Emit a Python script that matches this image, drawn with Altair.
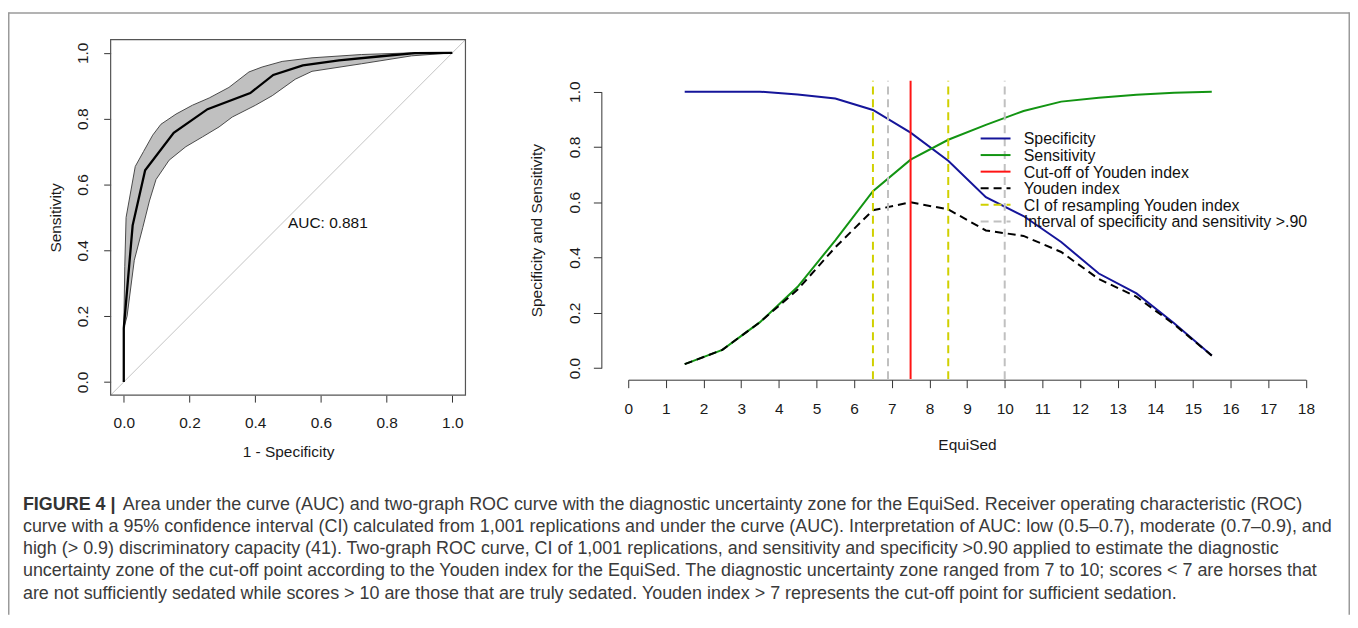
import altair as alt
import pandas as pd

# ---------------- data ----------------
# Left panel: ROC curve (x = 1 - specificity, y = sensitivity)
roc_fpr = [0.0, 0.0, 0.027, 0.065, 0.152, 0.255, 0.385, 0.455, 0.545, 0.655, 0.775, 0.886, 1.0]
roc_sens = [0.0, 0.163, 0.476, 0.643, 0.757, 0.829, 0.878, 0.933, 0.962, 0.977, 0.989, 0.999, 1.0]
ci_upper_fpr = [0.0, 0.003, 0.007, 0.035, 0.06, 0.088, 0.113, 0.159, 0.209, 0.26, 0.32, 0.381,
                0.421, 0.482, 0.573, 0.724, 0.876, 1.0]
ci_upper_sens = [0.163, 0.35, 0.50, 0.655, 0.70, 0.75, 0.783, 0.814, 0.841, 0.863, 0.895, 0.942,
                 0.957, 0.974, 0.985, 0.995, 1.0, 1.0]
ci_lower_fpr = [0.0, 0.01, 0.032, 0.058, 0.078, 0.098, 0.138, 0.189, 0.24, 0.29, 0.33, 0.401,
                0.452, 0.522, 0.573, 0.724, 0.876, 1.0]
ci_lower_sens = [0.163, 0.20, 0.37, 0.47, 0.55, 0.615, 0.674, 0.715, 0.745, 0.775, 0.805, 0.841,
                 0.87, 0.92, 0.944, 0.967, 0.991, 1.0]
auc_label = "AUC: 0.881"

# Right panel: two-graph ROC
equised = [1.5, 2.5, 3.5, 4.5, 5.5, 6.5, 7.5, 8.5, 9.5, 10.5, 11.5, 12.5, 13.5, 14.5, 15.5]
specificity = [1.0, 1.0, 1.0, 0.99, 0.975, 0.934, 0.852, 0.750, 0.618, 0.55, 0.456, 0.342, 0.270, 0.162, 0.045]
sensitivity = [0.014, 0.066, 0.166, 0.294, 0.462, 0.640, 0.754, 0.826, 0.880, 0.930, 0.964, 0.978, 0.989, 0.996, 1.0]
youden = [0.014, 0.066, 0.166, 0.284, 0.437, 0.571, 0.600, 0.574, 0.498, 0.478, 0.420, 0.322, 0.258, 0.158, 0.045]
youden_cutoff = [7.5]
ci_youden = [6.5, 8.5]
interval_90 = [6.9, 10.0]

legend_labels = ["Specificity", "Sensitivity", "Cut-off of Youden index", "Youden index",
                 "CI of resampling Youden index", "Interval of specificity and sensitivity >.90"]

caption_bold = "FIGURE 4 |"
caption_lines = [
    "Area under the curve (AUC) and two-graph ROC curve with the diagnostic uncertainty zone for the EquiSed. Receiver operating characteristic (ROC)",
    "curve with a 95% confidence interval (CI) calculated from 1,001 replications and under the curve (AUC). Interpretation of AUC: low (0.5\u20130.7), moderate (0.7\u20130.9), and",
    "high (> 0.9) discriminatory capacity (41). Two-graph ROC curve, CI of 1,001 replications, and sensitivity and specificity >0.90 applied to estimate the diagnostic",
    "uncertainty zone of the cut-off point according to the Youden index for the EquiSed. The diagnostic uncertainty zone ranged from 7 to 10; scores < 7 are horses that",
    "are not sufficiently sedated while scores > 10 are those that are truly sedated. Youden index > 7 represents the cut-off point for sufficient sedation.",
]

# ---------------- layout / style ----------------
FONT = "Liberation Sans"
FS = 15.5
W, H = 1348, 605
OX, OY = 8, 11          # page position of the view origin


def px(v):
    return v - OX


def py(v):
    return v - OY


BLUE = "#15159a"
GREEN = "#129412"
RED = "#ff1414"
YELLOW = "#d0d000"
GREY = "#c0c0c0"
DASH = [8, 5]

# ---------------- left panel ----------------
LX = alt.Scale(domain=[-0.04, 1.04], range=[px(111.1), px(467.5)], nice=False, zero=False)
LY = alt.Scale(domain=[-0.04, 1.04], range=[py(395.5), py(38.5)], nice=False, zero=False)
ticks01 = [0.0, 0.2, 0.4, 0.6, 0.8, 1.0]

ax_lx = alt.Axis(orient="bottom", offset=py(395.5) - H, values=ticks01, format=".1f",
                 domain=False, grid=False, tickSize=7, labelPadding=21, labelBaseline="middle",
                 labelAlign="center", labelFlush=False, labelOverlap=False,
                 title="1 - Specificity", titleX=px(289.3), titleY=57, titleBaseline="middle",
                 titleAlign="center", titleAngle=0)
ax_ly = alt.Axis(orient="left", offset=-px(111.1), values=ticks01, format=".1f",
                 domain=False, grid=False, tickSize=7, labelPadding=20.8, labelAngle=270,
                 labelAlign="center", labelBaseline="middle", labelFlush=False, labelOverlap=False,
                 title="Sensitivity", titleX=55.5 - 111.1, titleY=py(217), titleAngle=270,
                 titleBaseline="middle", titleAlign="center")

band_df = pd.DataFrame({
    "x": ci_upper_fpr + ci_lower_fpr[::-1],
    "y": ci_upper_sens + ci_lower_sens[::-1],
    "i": list(range(len(ci_upper_fpr) + len(ci_lower_fpr))),
})
roc_df = pd.DataFrame({"x": roc_fpr, "y": roc_sens, "i": list(range(len(roc_fpr)))})
one = pd.DataFrame({"a": [0]})

band = alt.Chart(band_df).mark_line(fill="#c0c0c0", stroke="#4a4a4a", strokeWidth=1).encode(
    x=alt.X("x:Q", scale=LX, axis=ax_lx),
    y=alt.Y("y:Q", scale=LY, axis=ax_ly),
    order=alt.Order("i:Q"),
)
diag = alt.Chart(one).mark_rule(color="#c4c4c4", strokeWidth=1).encode(
    x=alt.XDatum(-0.04, scale=LX, axis=ax_lx), x2=alt.X2Datum(1.04),
    y=alt.YDatum(-0.04, scale=LY, axis=ax_ly), y2=alt.Y2Datum(1.04),
)
curve = alt.Chart(roc_df).mark_line(color="#000000", strokeWidth=2.3).encode(
    x=alt.X("x:Q", scale=LX, axis=ax_lx),
    y=alt.Y("y:Q", scale=LY, axis=ax_ly),
    order=alt.Order("i:Q"),
)
box = alt.Chart(one).mark_rect(fill=None, stroke="#555555", strokeWidth=1.2).encode(
    x=alt.XDatum(-0.04, scale=LX, axis=ax_lx), x2=alt.X2Datum(1.04),
    y=alt.YDatum(-0.04, scale=LY, axis=ax_ly), y2=alt.Y2Datum(1.04),
)
auc = alt.Chart(pd.DataFrame({"t": [auc_label]})).mark_text(
    align="left", baseline="middle", font=FONT, fontSize=FS, color="#111111").encode(
    x=alt.XDatum(0.5, scale=LX, axis=ax_lx),
    y=alt.YDatum(0.482, scale=LY, axis=ax_ly),
    text="t:N",
)
left = alt.layer(band, diag, curve, box, auc)

# ---------------- right panel ----------------
RX = alt.Scale(domain=[0, 18], range=[px(631), px(1311.7)], nice=False, zero=False)
RY = alt.Scale(domain=[0, 1], range=[py(368.3), py(90.7)], nice=False, zero=False)

ax_rx = alt.Axis(orient="bottom", offset=py(380) - H, values=list(range(19)), format="d",
                 domain=True, grid=False, tickSize=8, labelPadding=21, labelBaseline="middle",
                 labelAlign="center", labelFlush=False, labelOverlap=False,
                 title="EquiSed", titleX=px(971.3), titleY=65, titleBaseline="middle",
                 titleAlign="center", titleAngle=0)
ax_ry = alt.Axis(orient="left", offset=-px(604), values=ticks01, format=".1f",
                 domain=True, grid=False, tickSize=8, labelPadding=19.3, labelAngle=270,
                 labelAlign="center", labelBaseline="middle", labelFlush=False, labelOverlap=False,
                 title="Specificity and Sensitivity", titleX=538.5 - 604, titleY=py(229.8),
                 titleAngle=270, titleBaseline="middle", titleAlign="center")

curves_df = pd.DataFrame({"x": equised, "spec": specificity, "sens": sensitivity, "you": youden})


def rx(field):
    return alt.X(field, scale=RX, axis=ax_rx)


def ry(field):
    return alt.Y(field, scale=RY, axis=ax_ry)


spec_line = alt.Chart(curves_df).mark_line(color=BLUE, strokeWidth=2).encode(
    x=rx("x:Q"), y=ry("spec:Q"))
sens_line = alt.Chart(curves_df).mark_line(color=GREEN, strokeWidth=2).encode(
    x=rx("x:Q"), y=ry("sens:Q"))
you_line = alt.Chart(curves_df).mark_line(color="#000000", strokeWidth=2, strokeDash=DASH).encode(
    x=rx("x:Q"), y=ry("you:Q"))


def vlines(values, color, dash=None):
    kw = dict(color=color, strokeWidth=2)
    if dash:
        kw["strokeDash"] = dash
    return alt.Chart(pd.DataFrame({"x": values})).mark_rule(**kw).encode(
        x=rx("x:Q"),
        y=alt.YDatum(-0.04, scale=RY, axis=ax_ry), y2=alt.Y2Datum(1.04),
    )


right = alt.layer(
    spec_line, sens_line, you_line,
    vlines(youden_cutoff, RED),
    vlines(ci_youden, YELLOW, DASH),
    vlines(interval_90, GREY, DASH),
)

# ---------------- legend (layout in pixels) ----------------
leg_colors = [BLUE, GREEN, RED, "#000000", YELLOW, GREY]
leg_dashed = [False, False, False, True, True, True]
legend_layers = []
for k, (lab, col, dsh) in enumerate(zip(legend_labels, leg_colors, leg_dashed)):
    yy = py(137.7 + 16.66 * k)
    mk = dict(color=col, strokeWidth=2)
    if dsh:
        mk["strokeDash"] = DASH
    legend_layers.append(
        alt.Chart(one).mark_rule(**mk).encode(
            x=alt.value(px(985)), x2=alt.value(px(1015)), y=alt.value(yy)))
    legend_layers.append(
        alt.Chart(pd.DataFrame({"t": [lab]})).mark_text(
            align="left", baseline="middle", font=FONT, fontSize=16, color="#111111").encode(
            x=alt.value(px(1028.3)), y=alt.value(yy + 1), text="t:N"))

# ---------------- caption ----------------
CFS = 18
CCOL = "#3a3a3a"
base = [510.7 + 22.3 * k for k in range(5)]


def ctext(s, xabs, yabs, bold=False, color=CCOL):
    return alt.Chart(pd.DataFrame({"t": [s]})).mark_text(
        align="left", baseline="alphabetic", font=FONT, fontSize=CFS, color=color,
        fontWeight="bold" if bold else "normal").encode(
        x=alt.value(px(xabs)), y=alt.value(py(yabs)), text="t:N")


caption_layers = [ctext(caption_bold, 23, base[0], bold=True, color="#333333"),
                  ctext(caption_lines[0], 123.3, base[0])]
caption_layers += [ctext(caption_lines[k], 23, base[k]) for k in range(1, 5)]

# ---------------- outer frame ----------------
FCOL = "#9a9a9a"
frame = [
    alt.Chart(one).mark_rule(color=FCOL, strokeWidth=1.5).encode(
        x=alt.value(0.75), x2=alt.value(W - 0.75), y=alt.value(0.75)),
    alt.Chart(one).mark_rule(color=FCOL, strokeWidth=1.5).encode(
        x=alt.value(0.75), y=alt.value(0), y2=alt.value(H)),
    alt.Chart(one).mark_rule(color=FCOL, strokeWidth=1.5).encode(
        x=alt.value(W - 0.75), y=alt.value(0), y2=alt.value(H)),
]

chart = alt.layer(left, right, *legend_layers, *caption_layers, *frame).resolve_scale(
    x="independent", y="independent"
).properties(
    width=W, height=H,
    autosize=alt.AutoSizeParams(type="none"),
    padding={"left": 0, "top": 3, "right": 0, "bottom": 0},
    background="#ffffff",
).configure_view(
    strokeWidth=0
).configure_axis(
    labelFont=FONT, titleFont=FONT, labelFontSize=FS, titleFontSize=FS,
    labelColor="#1a1a1a", titleColor="#1a1a1a", tickColor="#333333", domainColor="#333333",
    tickWidth=1, domainWidth=1, titleFontWeight="normal", grid=False,
)

chart.save("out.html", embed_options={"renderer": "svg", "actions": False})
